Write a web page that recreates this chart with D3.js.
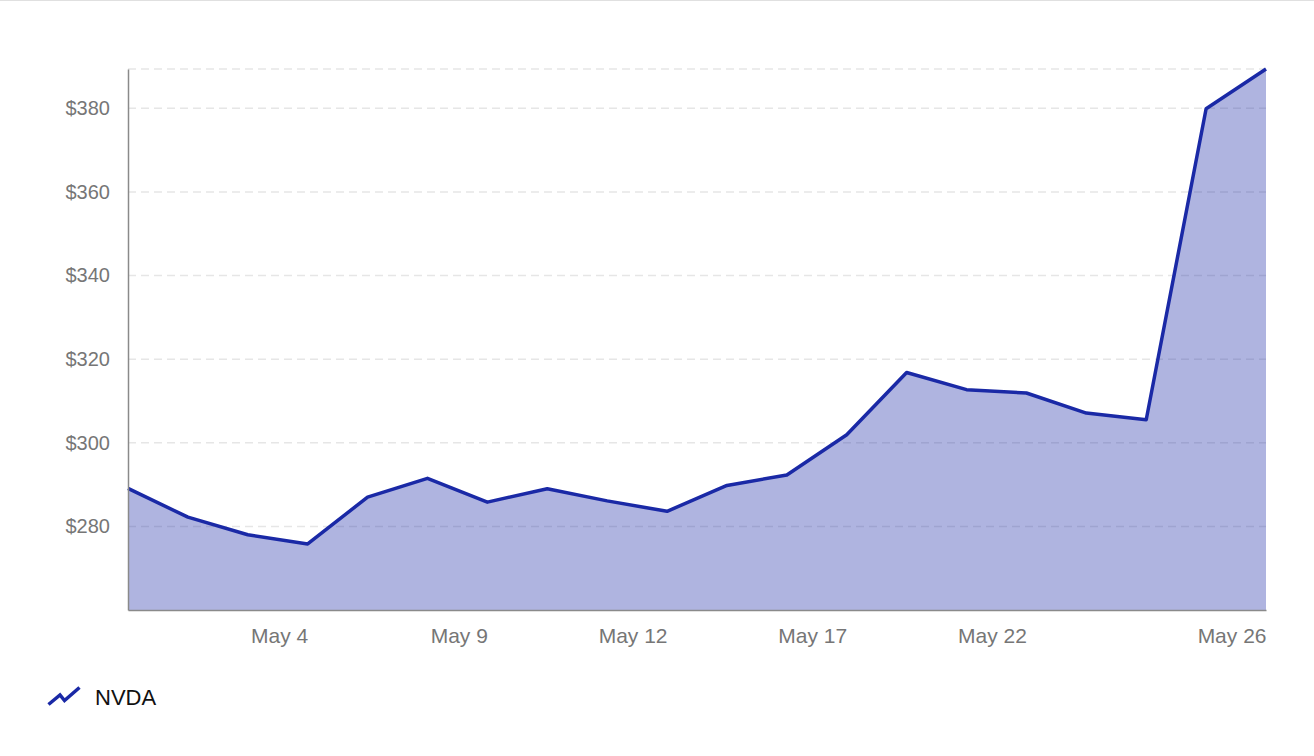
<!DOCTYPE html>
<html>
<head>
<meta charset="utf-8">
<script src="https://cdn.jsdelivr.net/npm/d3@7.9.0/dist/d3.min.js"></script>
<style>
  html, body { margin: 0; padding: 0; background: #fff; }
  body { width: 1314px; height: 756px; overflow: hidden; border-top: 1px solid #e0e0e0; box-sizing: border-box; }
  svg { display: block; font-family: "Liberation Sans", Arial, sans-serif; }
</style>
</head>
<body>
<svg width="1314" height="755"></svg>
<script>
// trading days, May 2023
const dates = ['May 1', 'May 2', 'May 3', 'May 4', 'May 5', 'May 8', 'May 9', 'May 10', 'May 11', 'May 12',
  'May 15', 'May 16', 'May 17', 'May 18', 'May 19', 'May 22', 'May 23', 'May 24', 'May 25', 'May 26'];
const prices = [289.1, 282.2, 278.0, 275.8, 287.0, 291.5, 285.8, 289.0, 286.1, 283.6,
  289.8, 292.3, 301.9, 316.8, 312.7, 311.9, 307.1, 305.5, 379.9, 389.4];
const xTickLabels = ['May 4', 'May 9', 'May 12', 'May 17', 'May 22', 'May 26'];
const yTicks = [280, 300, 320, 340, 360, 380];
const seriesName = 'NVDA';

const lineColor = '#1a29a6';
const margin = { top: 68, left: 128, right: 48, bottom: 146 };
const width = 1314, height = 755;

let svg = d3.select('svg');

let x = d3.scalePoint()
  .domain(dates)
  .range([margin.left, width - margin.right]);

let y = d3.scaleLinear()
  .domain([260, d3.max(prices)])
  .range([height - margin.bottom, margin.top]);

let data = dates.map((d, i) => ({ date: d, value: prices[i] }));

// grid lines
svg.append('g')
  .selectAll('line')
  .data(yTicks.concat([d3.max(prices)]))
  .enter()
  .append('line')
  .attr('x1', margin.left)
  .attr('x2', width - margin.right)
  .attr('y1', d => y(d))
  .attr('y2', d => y(d))
  .attr('stroke', '#e6e6e6')
  .attr('stroke-width', 1.5)
  .attr('stroke-dasharray', '8 5');

// area + line
let area = d3.area()
  .x(d => x(d.date))
  .y0(y(260))
  .y1(d => y(d.value));

let line = d3.line()
  .x(d => x(d.date))
  .y(d => y(d.value));

svg.append('path')
  .datum(data)
  .attr('d', area)
  .attr('fill', lineColor)
  .attr('fill-opacity', 0.35);

svg.append('path')
  .datum(data)
  .attr('d', line)
  .attr('fill', 'none')
  .attr('stroke', lineColor)
  .attr('stroke-width', 3.5)
  .attr('stroke-linejoin', 'round');

// y axis
let yAxis = svg.append('g')
  .attr('transform', `translate(${margin.left},0)`)
  .call(d3.axisLeft(y).tickValues(yTicks).tickSize(0).tickPadding(18).tickFormat(d => '$' + d));
yAxis.select('.domain').attr('stroke', '#8a8a8a').attr('stroke-width', 1.5);
yAxis.selectAll('text').attr('font-size', 20).attr('fill', '#767676').attr('font-family', null);

// x axis
let xAxis = svg.append('g')
  .attr('transform', `translate(0,${height - margin.bottom})`)
  .call(d3.axisBottom(x).tickValues(xTickLabels).tickSize(0).tickPadding(18));
xAxis.select('.domain').attr('stroke', '#8a8a8a').attr('stroke-width', 1.5);
xAxis.selectAll('text')
  .attr('font-size', 21)
  .attr('fill', '#767676')
  .attr('font-family', null)
  .attr('text-anchor', 'end');

// legend
let legend = svg.append('g');
legend.append('path')
  .attr('d', 'M48.5,703.5 L60,694 L64.5,699.5 L79.5,686.5')
  .attr('fill', 'none')
  .attr('stroke', lineColor)
  .attr('stroke-width', 3.5);
legend.append('text')
  .attr('x', 95)
  .attr('y', 704)
  .attr('font-size', 22)
  .attr('fill', '#111')
  .text(seriesName);
</script>
</body>
</html>
